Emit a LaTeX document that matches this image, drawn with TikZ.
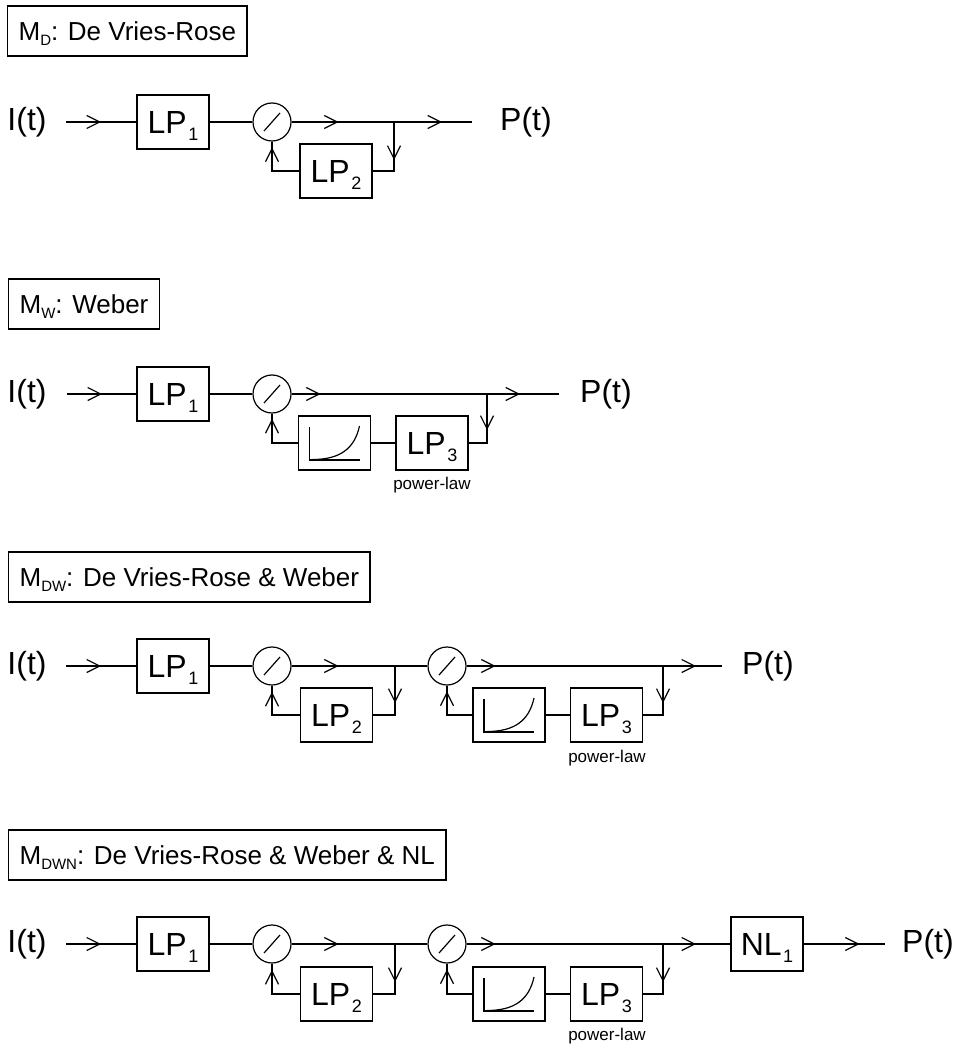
\documentclass[tikz,border=0pt]{standalone}
\usepackage{fontspec}
\setmainfont{Liberation Sans}
\usetikzlibrary{arrows.meta,decorations.markings}
\newcommand\bigf{\fontsize{32}{38}\selectfont}
\newcommand\ttlf{\fontsize{26}{31}\selectfont}
\newcommand\plf{\fontsize{17}{20}\selectfont}
\newcommand\subx[1]{\kern1.5pt\raisebox{-7pt}[0pt][0pt]{\fontsize{18}{18}\selectfont #1}}
\newcommand\tsub[1]{\raisebox{-5pt}[0pt][0pt]{\fontsize{15}{15}\selectfont #1}}
\newcommand\crv[1]{%
  \draw ([shift={(-25,-16)}]#1.center) -- ([shift={(-25,17)}]#1.center) -- ([shift={(25,17)}]#1.center);
  \draw ([shift={(-22,16.5)}]#1.center) .. controls ([shift={(5,16.5)}]#1.center) and ([shift={(20,6)}]#1.center) .. ([shift={(25,-17)}]#1.center);}
\newcommand\divslash[1]{%
  \draw ([shift={(-8,9)}]#1.center) -- ([shift={(8,-9)}]#1.center);}
\tikzset{
  blk/.style={draw, minimum width=72pt, minimum height=54pt, inner sep=0pt, font=\bigf},
  dv/.style={draw, circle, minimum size=38pt, inner sep=0pt},
  lbl/.style={font=\bigf, inner sep=0pt},
  ttl/.style={draw, anchor=west, minimum height=50pt, inner xsep=11pt, inner ysep=0pt, font=\ttlf},
  pl/.style={font=\plf, inner sep=0pt},
  arrowat/.style={postaction={decorate, decoration={markings,
      mark=at position #1 with {\arrow{Straight Barb[length=13pt,width=13pt]}}}}},
}
\begin{document}
\begin{tikzpicture}[x=1pt,y=-1pt,line width=1.2pt]
\useasboundingbox (0,0) rectangle (957,1048);

% ---------- Row 1 : M_D ----------
\node[ttl] (a-t) at (7,31) {M\tsub{D}: De Vries-Rose};
\node[lbl] (a-in) at (27,122) {I(t)};
\coordinate (a-s) at (66,122);
\node[blk] (a-lp1) at (173,122) {LP\subx{1}};
\node[dv] (a-d1) at (272,122) {};
\node[blk] (a-lp2) at (336,171) {LP\subx{2}};
\coordinate (a-b1) at (394,122);
\coordinate (a-e) at (472,122);
\node[lbl] (a-out) at (526,122) {P(t)};
\divslash{a-d1}
\draw[arrowat=35pt] (a-s) -- (a-lp1.west);
\draw (a-lp1.east) -- (a-d1.west);
\draw[arrowat=47pt] (a-d1.east) -- (a-b1);
\draw[arrowat=48pt] (a-b1) -- (a-e);
\draw[arrowat=38pt] (a-b1) |- (a-lp2.east);
\draw[arrowat=51pt] (a-lp2.west) -| (a-d1.south);

% ---------- Row 2 : M_W ----------
\node[ttl] (b-t) at (8,304) {M\tsub{W}: Weber};
\node[lbl] (b-in) at (27,394) {I(t)};
\coordinate (b-s) at (67,394);
\node[blk] (b-lp1) at (173,394) {LP\subx{1}};
\node[dv] (b-d1) at (272,394) {};
\node[blk] (b-c) at (334.5,443) {};
\node[blk] (b-lp3) at (432,443) {LP\subx{3}};
\node[pl] (b-pl) at (432,485) {power-law};
\coordinate (b-b1) at (487,394);
\coordinate (b-e) at (559,394);
\node[lbl] (b-out) at (606,394) {P(t)};
\divslash{b-d1}
\crv{b-c}
\draw[arrowat=35pt] (b-s) -- (b-lp1.west);
\draw (b-lp1.east) -- (b-d1.west);
\draw[arrowat=29pt] (b-d1.east) -- (b-b1);
\draw[arrowat=33pt] (b-b1) -- (b-e);
\draw[arrowat=36pt] (b-b1) |- (b-lp3.east);
\draw (b-lp3.west) -- (b-c.east);
\draw[arrowat=50pt] (b-c.west) -| (b-d1.south);

% ---------- Row 3 : M_DW ----------
\node[ttl] (c-t) at (8,577) {M\tsub{DW}: De Vries-Rose \& Weber};
\node[lbl] (c-in) at (27,666) {I(t)};
\coordinate (c-s) at (66,666);
\node[blk] (c-lp1) at (173,666) {LP\subx{1}};
\node[dv] (c-d1) at (272,666) {};
\node[blk] (c-lp2) at (336.5,715) {LP\subx{2}};
\coordinate (c-b1) at (395,666);
\node[dv] (c-d2) at (447,666) {};
\node[blk] (c-c) at (509,715) {};
\node[blk] (c-lp3) at (606.5,715) {LP\subx{3}};
\node[pl] (c-pl) at (607,758) {power-law};
\coordinate (c-b2) at (663,666);
\coordinate (c-e) at (722,666);
\node[lbl] (c-out) at (768,666) {P(t)};
\divslash{c-d1}
\divslash{c-d2}
\crv{c-c}
\draw[arrowat=35pt] (c-s) -- (c-lp1.west);
\draw (c-lp1.east) -- (c-d1.west);
\draw[arrowat=47pt] (c-d1.east) -- (c-b1);
\draw (c-b1) -- (c-d2.west);
\draw[arrowat=37pt] (c-b1) |- (c-lp2.east);
\draw[arrowat=51pt] (c-lp2.west) -| (c-d1.south);
\draw[arrowat=29pt] (c-d2.east) -- (c-b2);
\draw[arrowat=33pt] (c-b2) -- (c-e);
\draw[arrowat=37pt] (c-b2) |- (c-lp3.east);
\draw (c-lp3.west) -- (c-c.east);
\draw[arrowat=49pt] (c-c.west) -| (c-d2.south);

% ---------- Row 4 : M_DWN ----------
\node[ttl] (d-t) at (8,855) {M\tsub{DWN}: De Vries-Rose \& Weber \& NL};
\node[lbl] (d-in) at (27,944) {I(t)};
\coordinate (d-s) at (66,944);
\node[blk] (d-lp1) at (173,944) {LP\subx{1}};
\node[dv] (d-d1) at (272,944) {};
\node[blk] (d-lp2) at (336.5,994) {LP\subx{2}};
\coordinate (d-b1) at (395,944);
\node[dv] (d-d2) at (447,944) {};
\node[blk] (d-c) at (509,994) {};
\node[blk] (d-lp3) at (606.5,994) {LP\subx{3}};
\node[pl] (d-pl) at (607,1036) {power-law};
\coordinate (d-b2) at (663,944);
\node[blk] (d-nl) at (767,944) {NL\subx{1}};
\coordinate (d-e) at (885,944);
\node[lbl] (d-out) at (928,944) {P(t)};
\divslash{d-d1}
\divslash{d-d2}
\crv{d-c}
\draw[arrowat=35pt] (d-s) -- (d-lp1.west);
\draw (d-lp1.east) -- (d-d1.west);
\draw[arrowat=47pt] (d-d1.east) -- (d-b1);
\draw (d-b1) -- (d-d2.west);
\draw[arrowat=38pt] (d-b1) |- (d-lp2.east);
\draw[arrowat=52pt] (d-lp2.west) -| (d-d1.south);
\draw[arrowat=29pt] (d-d2.east) -- (d-b2);
\draw[arrowat=33pt] (d-b2) -- (d-nl.west);
\draw[arrowat=38pt] (d-b2) |- (d-lp3.east);
\draw (d-lp3.west) -- (d-c.east);
\draw[arrowat=50pt] (d-c.west) -| (d-d2.south);
\draw[arrowat=56pt] (d-nl.east) -- (d-e);
\end{tikzpicture}
\end{document}
